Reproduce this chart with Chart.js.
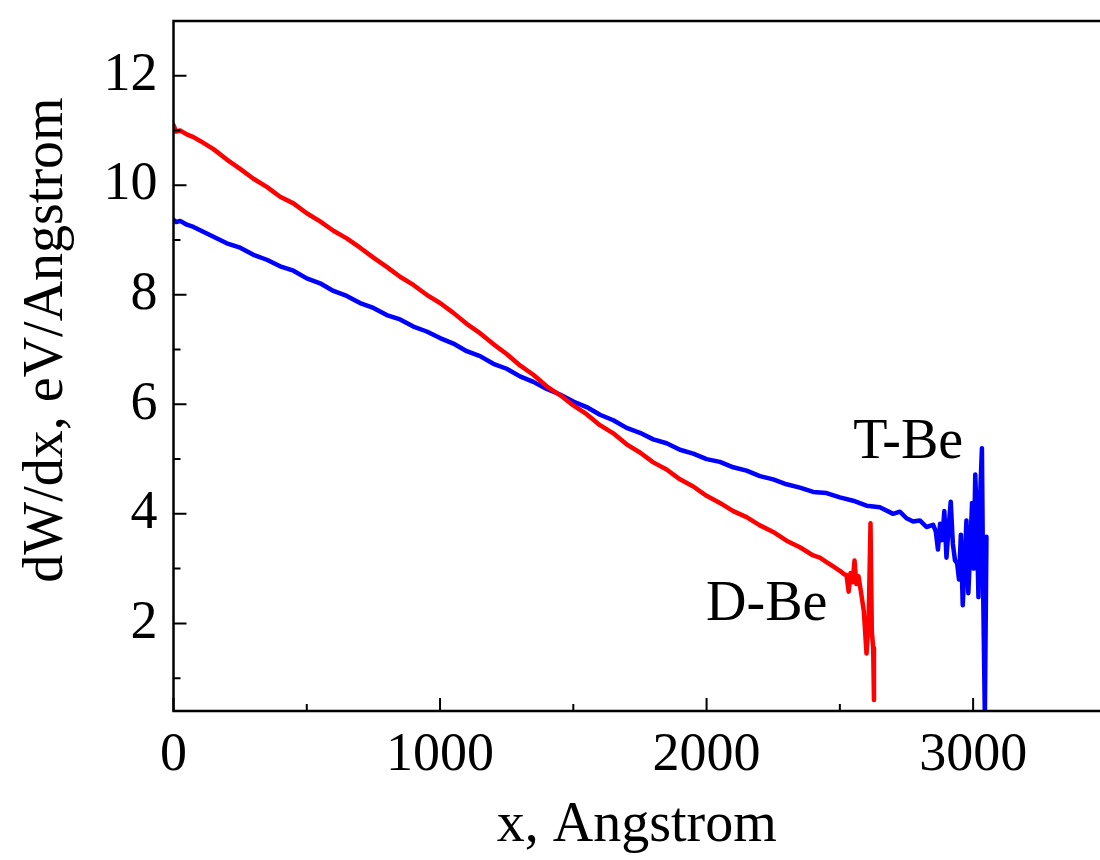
<!DOCTYPE html>
<html>
<head>
<meta charset="utf-8">
<title>dW/dx</title>
<script src="https://cdn.jsdelivr.net/npm/chart.js@4"></script>
<style>
  html, body { margin: 0; padding: 0; background: #fff; overflow: hidden; }
  #wrap { width: 1100px; height: 860px; }
</style>
</head>
<body>
<div id="wrap"><canvas id="chart" width="1100" height="860"></canvas></div>
<script>
// D-Be (red)
const dbeX = [0, 10, 25, 50, 75, 100, 150, 200, 250, 300, 350, 400, 450, 500, 550, 600, 650, 700, 750, 800,
  850, 900, 950, 1000, 1050, 1100, 1150, 1200, 1250, 1300, 1350, 1400, 1450, 1500, 1550, 1600, 1650, 1700, 1750, 1800,
  1850, 1900, 1950, 2000, 2050, 2100, 2150, 2200, 2250, 2300, 2350, 2400, 2425, 2450, 2475, 2500, 2515, 2525, 2533, 2540,
  2548, 2555, 2562, 2570, 2580, 2590, 2600, 2608, 2615, 2620, 2625, 2628];
const dbeY = [11.10, 10.98, 11.00, 10.93, 10.88, 10.81, 10.66, 10.47, 10.30, 10.12, 9.97, 9.79, 9.67, 9.49, 9.34, 9.17, 9.03, 8.86, 8.68, 8.51,
  8.33, 8.18, 8.00, 7.85, 7.67, 7.47, 7.30, 7.10, 6.92, 6.71, 6.54, 6.33, 6.17, 5.98, 5.82, 5.62, 5.47, 5.27, 5.12, 4.94,
  4.81, 4.63, 4.50, 4.33, 4.20, 4.05, 3.94, 3.79, 3.67, 3.51, 3.39, 3.24, 3.20, 3.12, 3.04, 2.96, 2.90, 2.88, 2.58, 2.92,
  2.75, 3.15, 2.72, 2.86, 2.55, 2.22, 1.45, 2.05, 3.83, 1.85, 1.55, 0.60];

// T-Be (blue)
const tbeX = [0, 10, 25, 50, 75, 100, 150, 200, 250, 300, 350, 400, 450, 500, 550, 600, 650, 700, 750, 800,
  850, 900, 950, 1000, 1050, 1100, 1150, 1200, 1250, 1300, 1350, 1400, 1450, 1500, 1550, 1600, 1650, 1700, 1750, 1800,
  1850, 1900, 1950, 2000, 2050, 2100, 2150, 2200, 2250, 2300, 2350, 2400, 2450, 2500, 2550, 2600, 2650, 2700, 2725, 2750,
  2775, 2800, 2825, 2850, 2860, 2868, 2876, 2884, 2892, 2900, 2908, 2916, 2924, 2932, 2940, 2947, 2954, 2961, 2968, 2975,
  2982, 2989, 2996, 3002, 3008, 3014, 3020, 3026, 3033, 3038, 3044, 3050];
const tbeY = [9.37, 9.33, 9.35, 9.28, 9.24, 9.18, 9.06, 8.94, 8.86, 8.73, 8.64, 8.52, 8.44, 8.30, 8.21, 8.07, 7.98, 7.85, 7.76, 7.63,
  7.55, 7.42, 7.33, 7.21, 7.11, 6.97, 6.88, 6.74, 6.65, 6.51, 6.41, 6.28, 6.18, 6.05, 5.95, 5.81, 5.71, 5.57, 5.48, 5.36,
  5.29, 5.17, 5.10, 5.00, 4.95, 4.85, 4.79, 4.69, 4.63, 4.54, 4.48, 4.40, 4.38, 4.30, 4.24, 4.15, 4.12, 4.00, 4.04, 3.92,
  3.86, 3.88, 3.76, 3.80, 3.68, 3.35, 3.82, 3.52, 4.05, 3.20, 3.75, 4.22, 3.45, 3.15, 3.10, 2.80, 3.62, 2.33, 3.05, 3.88,
  2.55, 3.35, 4.20, 3.00, 4.72, 3.85, 2.48, 4.28, 5.20, 2.45, 0.30, 3.58];

// axes
const xTicks = [0, 1000, 2000, 3000];
const xMinorTicks = [500, 1500, 2500];
const yTicks = [2, 4, 6, 8, 10, 12];
const yMinorTicks = [1, 3, 5, 7, 9, 11];

const FONT = '"Liberation Serif", "Times New Roman", serif';

const toPoints = (xs, ys) => xs.map((x, i) => ({ x: x, y: ys[i] }));

// frame, inward ticks, curve labels and y title
const framePlugin = {
  id: 'frame',
  afterDraw(chart) {
    const { ctx, chartArea: a, scales: { x, y } } = chart;
    ctx.save();
    ctx.strokeStyle = '#000';
    ctx.lineWidth = 2.5;
    ctx.beginPath();
    ctx.moveTo(a.right, a.top);
    ctx.lineTo(a.left, a.top);
    ctx.lineTo(a.left, a.bottom);
    ctx.lineTo(a.right, a.bottom);
    ctx.stroke();

    ctx.lineWidth = 2;
    ctx.beginPath();
    xTicks.forEach(v => { const px = x.getPixelForValue(v); ctx.moveTo(px, a.bottom); ctx.lineTo(px, a.bottom - 13); });
    xMinorTicks.forEach(v => { const px = x.getPixelForValue(v); ctx.moveTo(px, a.bottom); ctx.lineTo(px, a.bottom - 7); });
    yTicks.forEach(v => { const py = y.getPixelForValue(v); ctx.moveTo(a.left, py); ctx.lineTo(a.left + 13, py); });
    yMinorTicks.forEach(v => { const py = y.getPixelForValue(v); ctx.moveTo(a.left, py); ctx.lineTo(a.left + 7, py); });
    ctx.stroke();

    ctx.fillStyle = '#000';
    ctx.font = '56px ' + FONT;
    ctx.textAlign = 'left';
    ctx.textBaseline = 'alphabetic';
    ctx.fillText('T-Be', x.getPixelForValue(2550), y.getPixelForValue(5.02));
    ctx.fillText('D-Be', x.getPixelForValue(1998), y.getPixelForValue(2.06));

    ctx.translate(47, 340);
    ctx.rotate(-Math.PI / 2);
    ctx.textAlign = 'center';
    ctx.textBaseline = 'middle';
    ctx.fillText('dW/dx, eV/Angstrom', 0, 0);
    ctx.restore();
  }
};

const ctx = document.getElementById('chart').getContext('2d');
const chart = new Chart(ctx, {
  type: 'line',
  data: {
    datasets: [
      { label: 'D-Be', data: toPoints(dbeX, dbeY), borderColor: '#ff0000', backgroundColor: '#ff0000' },
      { label: 'T-Be', data: toPoints(tbeX, tbeY), borderColor: '#0000ff', backgroundColor: '#0000ff' }
    ]
  },
  options: {
    responsive: false,
    animation: false,
    layout: { padding: { top: 21, right: 0, bottom: 0, left: 0 } },
    plugins: { legend: { display: false }, tooltip: { enabled: false } },
    elements: {
      point: { radius: 0 },
      line: { borderWidth: 4.5, tension: 0, borderJoinStyle: 'round', borderCapStyle: 'round' }
    },
    scales: {
      x: {
        type: 'linear',
        min: 0,
        max: 3476,
        grid: { display: false, drawTicks: false },
        border: { display: false },
        afterBuildTicks: s => { s.ticks = xTicks.map(v => ({ value: v })); },
        afterFit: s => { s.height = 149; s.paddingLeft = 0; s.paddingRight = 0; },
        ticks: { font: { family: FONT, size: 54 }, color: '#000', padding: 12, maxRotation: 0, callback: v => String(v) },
        title: { display: true, text: 'x, Angstrom', font: { family: FONT, size: 56 }, color: '#000', padding: 0 }
      },
      y: {
        type: 'linear',
        min: 0.4,
        max: 13,
        grid: { display: false, drawTicks: false },
        border: { display: false },
        afterBuildTicks: s => { s.ticks = yTicks.map(v => ({ value: v })); },
        afterFit: s => { s.width = 173.5; s.paddingTop = 0; s.paddingBottom = 0; },
        ticks: { font: { family: FONT, size: 54 }, color: '#000', padding: 16, callback: v => String(v) }
      }
    }
  },
  plugins: [framePlugin]
});
</script>
</body>
</html>
